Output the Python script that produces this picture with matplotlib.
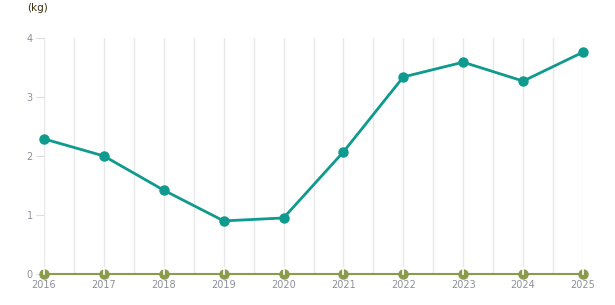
import matplotlib.pyplot as plt
import numpy as np

years = [2016, 2017, 2018, 2019, 2020, 2021, 2022, 2023, 2024, 2025]
teal_values = [2.29, 2.0, 1.42, 0.90, 0.95, 2.07, 3.34, 3.59, 3.27, 3.76]
olive_values = [0, 0, 0, 0, 0, 0, 0, 0, 0, 0]

fig = plt.figure(figsize=(6.15, 3.05), dpi=100)
ax = fig.add_axes([44 / 615, 1 - 274 / 305, (583 - 44) / 615, (274 - 38) / 305])

# vertical grid at every year and half year
for gx in np.arange(2016, 2025.01, 0.5):
    ax.axvline(gx, color="#e8e8e8", lw=1, zorder=0)

ax.plot(years, olive_values, color="#8b9a4b", lw=1.5, marker="o", markersize=6.5,
        clip_on=False, zorder=3)
ax.plot(years, teal_values, color="#0e9a8e", lw=2, marker="o", markersize=6.5,
        clip_on=False, zorder=4)

# thin white marks through the zero markers
for x in years:
    ax.plot([x, x], [0, 0.11], color="white", lw=1.2, zorder=5, clip_on=False)

ax.set_xlim(2016, 2025)
ax.set_ylim(0, 4)
ax.set_xticks(years)
ax.set_yticks([0, 1, 2, 3, 4])
for s in ax.spines.values():
    s.set_visible(False)
ax.tick_params(axis="x", length=0, labelsize=7, colors="#8f8f9c", pad=4)
ax.tick_params(axis="y", length=6, width=0.8, color="#dcdcdc", labelsize=7,
               labelcolor="#8f8f9c", pad=2)

fig.text(27 / 615, 1 - 8 / 305, "(kg)", fontsize=7.5, color="#3a2a10", va="center")

fig.savefig("out.png", dpi=100)
